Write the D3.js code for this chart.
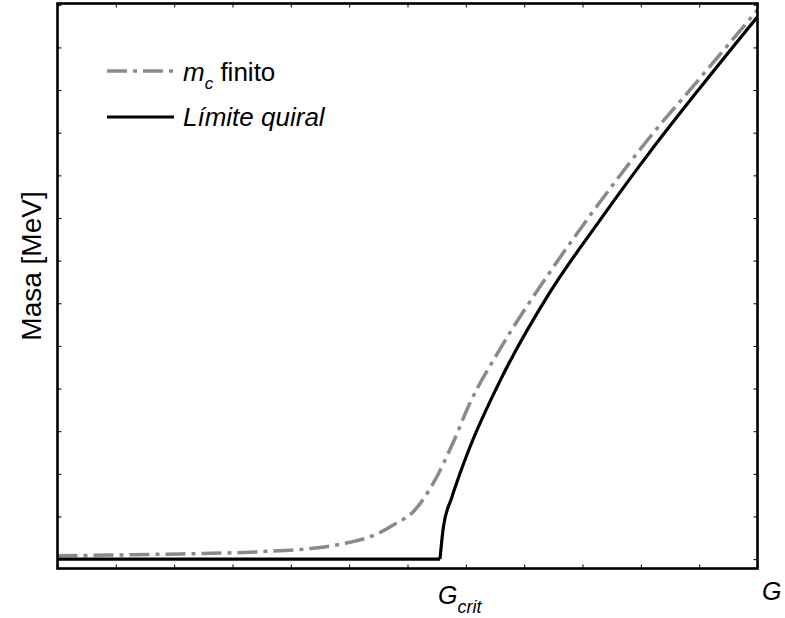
<!DOCTYPE html>
<html><head><meta charset="utf-8">
<script src="https://cdn.jsdelivr.net/npm/d3@7"></script>
<style>body{margin:0;background:#fff}svg{display:block}text{font-family:"Liberation Sans",Arial,sans-serif;fill:#000}</style>
</head><body><svg id="c" width="785" height="618"></svg>
<script>
// Data (G and mass in tick units)
const xTicks = d3.range(0, 13);
const yTicks = d3.range(0, 14);
const gCrit = 6.557;
const chiralG = [0, 6.557, 6.614, 6.758, 6.866, 7.071, 7.586, 8.443, 9.300, 10.157, 11.014, 12.0];
const chiralM = [0, 0, 0.74, 1.44, 1.88, 2.63, 4.18, 6.26, 7.95, 9.55, 11.05, 12.72];
const finiteG = [0, 1.757, 3.471, 4.38, 5.014, 5.409, 5.786, 6.099, 6.471, 6.763, 7.071, 7.586, 8.443, 9.300, 10.157, 11.014, 12.0];
const finiteM = [0.080, 0.113, 0.174, 0.254, 0.394, 0.549, 0.823, 1.112, 1.852, 2.675, 3.661, 4.927, 6.733, 8.374, 9.899, 11.28, 12.88];
const legendLabels = ["finito", "Límite quiral"];

const svg = d3.select("#c");
const L = 57.5, R = 757.5, T = 3.5, B = 568.5;
const x = d3.scaleLinear().domain([0, 12]).range([L, R]);
const y = d3.scaleLinear().domain([-0.22, 13.03]).range([B, T]);

svg.append("clipPath").attr("id","clip").append("rect").attr("x",L).attr("y",T).attr("width",R-L).attr("height",B-T);

// inward ticks on all sides
const tk = 4;
const style = g=>{g.select(".domain").remove();g.selectAll("line").attr("stroke","#000").attr("stroke-width",1);};
svg.append("g").attr("transform",`translate(0,${B})`).call(d3.axisBottom(x).tickValues(xTicks).tickSize(-tk).tickFormat("")).call(style);
svg.append("g").attr("transform",`translate(0,${T})`).call(d3.axisTop(x).tickValues(xTicks).tickSize(-tk).tickFormat("")).call(style);
svg.append("g").attr("transform",`translate(${L},0)`).call(d3.axisLeft(y).tickValues(yTicks).tickSize(-tk).tickFormat("")).call(style);
svg.append("g").attr("transform",`translate(${R},0)`).call(d3.axisRight(y).tickValues(yTicks).tickSize(-tk).tickFormat("")).call(style);

const line = d3.line().x(d=>x(d[0])).y(d=>y(d[1])).curve(d3.curveMonotoneX);
const lin = d3.line().x(d=>x(d[0])).y(d=>y(d[1]));
const plot = svg.append("g").attr("clip-path","url(#clip)");
plot.append("path").datum(finiteG.map((g,i)=>[g,finiteM[i]])).attr("d",line)
  .attr("fill","none").attr("stroke","#8a8a8a").attr("stroke-width",3.5).attr("stroke-dasharray","20,6,4,6");
const chiral = chiralG.map((g,i)=>[g,chiralM[i]]);
const kink = chiral.findIndex(d=>d[0]===gCrit);
plot.append("path").datum(chiral.slice(0,kink+1)).attr("d",lin)
  .attr("fill","none").attr("stroke","#000").attr("stroke-width",3.2);
plot.append("path").datum(chiral.slice(kink)).attr("d",line)
  .attr("fill","none").attr("stroke","#000").attr("stroke-width",3.2).attr("stroke-linejoin","round");

// frame
svg.append("rect").attr("x",L).attr("y",T).attr("width",R-L).attr("height",B-T)
  .attr("fill","none").attr("stroke","#000").attr("stroke-width",2.6);

// legend
svg.append("line").attr("x1",107).attr("x2",174).attr("y1",71).attr("y2",71)
  .attr("stroke","#8a8a8a").attr("stroke-width",3.5).attr("stroke-dasharray","20,6,4,6");
const t1 = svg.append("text").attr("x",183).attr("y",81).attr("font-size",26);
t1.append("tspan").attr("font-style","italic").text("m");
t1.append("tspan").attr("font-style","italic").attr("font-size",17).attr("dy",8).text("c");
t1.append("tspan").attr("dy",-8).text(" " + legendLabels[0]);
svg.append("line").attr("x1",107).attr("x2",174).attr("y1",117).attr("y2",117)
  .attr("stroke","#000").attr("stroke-width",3.2);
svg.append("text").attr("x",183).attr("y",125.5).attr("font-size",26).attr("font-style","italic").text(legendLabels[1]);

// axis labels
const gl = svg.append("text").attr("x",x(gCrit)-2).attr("y",604).attr("font-size",25).attr("font-style","italic");
gl.append("tspan").text("G");
gl.append("tspan").attr("font-size",18).attr("dy",9).text("crit");
svg.append("text").attr("x",762).attr("y",600).attr("font-size",25).attr("font-style","italic").text("G");
svg.append("text").attr("transform","translate(41,266) rotate(-90)").attr("text-anchor","middle").attr("font-size",28).text("Masa [MeV]");
</script></body></html>
